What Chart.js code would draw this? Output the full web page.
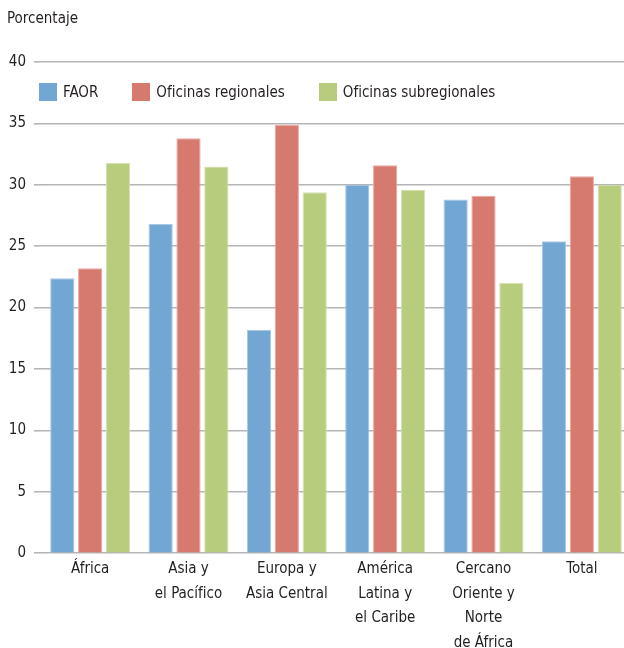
<!DOCTYPE html>
<html lang="es">
<head>
<meta charset="utf-8">
<title>Porcentaje por región y tipo de oficina</title>
<script src="https://cdn.jsdelivr.net/npm/chart.js@4.4.1/dist/chart.umd.min.js"></script>
<style>
  html, body { margin: 0; padding: 0; background: #fff; overflow: hidden; }
  #frame { position: relative; width: 624px; height: 648px; overflow: hidden; }
  #box { position: absolute; left: 0; top: 0; width: 634px; height: 659px; }
  #legend { position: absolute; display: flex; align-items: center;
            font-family: "DejaVu Sans Condensed", "Liberation Sans Narrow", sans-serif;
            font-size: 15px; color: #231f20; white-space: nowrap; }
  #legend .item { display: flex; align-items: center; margin-right: 34px; }
  #legend .sw { width: 18px; height: 18px; margin-right: 6px; }
</style>
</head>
<body>
<div id="frame">
  <div id="box"><canvas id="chart"></canvas></div>
  <div id="legend"></div>
</div>
<script>
const categories = [
  ["África"],
  ["Asia y", "el Pacífico"],
  ["Europa y", "Asia Central"],
  ["América", "Latina y", "el Caribe"],
  ["Cercano", "Oriente y", "Norte", "de África"],
  ["Total"]
];
const faor = [22.4, 26.8, 18.2, 30.0, 28.8, 25.4];
const oficinasRegionales = [23.2, 33.8, 34.9, 31.6, 29.1, 30.7];
const oficinasSubregionales = [31.8, 31.5, 29.4, 29.6, 22.0, 30.0];
const seriesNames = ["FAOR", "Oficinas regionales", "Oficinas subregionales"];
const yTicks = [0, 5, 10, 15, 20, 25, 30, 35, 40];

const FONT = '"DejaVu Sans Condensed", "Liberation Sans Narrow", sans-serif';
const TEXT = '#231f20';
const GRID = '#b5b5b5';

const colours = [
  { fill: '#72a6d3', edge: '#a8c8e6' },
  { fill: '#d67a70', edge: '#eaaaa2' },
  { fill: '#b8cc7e', edge: '#d6e2b0' }
];

const seriesValues = [faor, oficinasRegionales, oficinasSubregionales];

const data = {
  labels: categories,
  datasets: seriesValues.map((vals, i) => ({
    label: seriesNames[i],
    data: vals,
    backgroundColor: colours[i].fill,
    borderColor: colours[i].edge,
    borderWidth: 1,
    categoryPercentage: 0.85,
    barPercentage: 0.87
  }))
};

// HTML legend placed in the upper-left corner of the plot area
const htmlLegend = {
  id: 'htmlLegend',
  afterRender(chart) {
    const el = document.getElementById('legend');
    if (el.dataset.done) return;
    el.dataset.done = '1';
    chart.data.datasets.forEach(ds => {
      const item = document.createElement('div');
      item.className = 'item';
      const sw = document.createElement('span');
      sw.className = 'sw';
      sw.style.background = ds.backgroundColor;
      const tx = document.createElement('span');
      tx.textContent = ds.label;
      item.appendChild(sw);
      item.appendChild(tx);
      el.appendChild(item);
    });
    const a = chart.chartArea;
    el.style.left = (a.left - 2) + 'px';
    el.style.top = (a.top + 21) + 'px';
  }
};

new Chart(document.getElementById('chart'), {
  type: 'bar',
  data,
  plugins: [htmlLegend],
  options: {
    responsive: true,
    maintainAspectRatio: false,
    animation: false,
    layout: { padding: { left: 7, right: 3, top: 0, bottom: 0 } },
    plugins: {
      legend: { display: false },
      tooltip: { enabled: false },
      title: {
        display: true,
        text: 'Porcentaje',
        align: 'start',
        color: TEXT,
        font: { family: FONT, size: 15, weight: 'normal' },
        padding: { top: 10, bottom: 34 }
      }
    },
    scales: {
      x: {
        grid: { display: false, drawTicks: false, tickLength: 0 },
        border: { display: false },
        ticks: {
          color: TEXT,
          font: { family: FONT, size: 15, lineHeight: 1.63 },
          padding: 4,
          maxRotation: 0,
          autoSkip: false
        }
      },
      y: {
        min: 0,
        max: 40,
        afterBuildTicks(axis) { axis.ticks = yTicks.map(v => ({ value: v })); },
        afterFit(axis) { axis.width = 34; },
        grid: { color: GRID, lineWidth: 1.6, tickLength: 7, tickColor: GRID },
        border: { display: false },
        ticks: {
          color: TEXT,
          font: { family: FONT, size: 15 },
          padding: 8
        }
      }
    }
  }
});
</script>
</body>
</html>
